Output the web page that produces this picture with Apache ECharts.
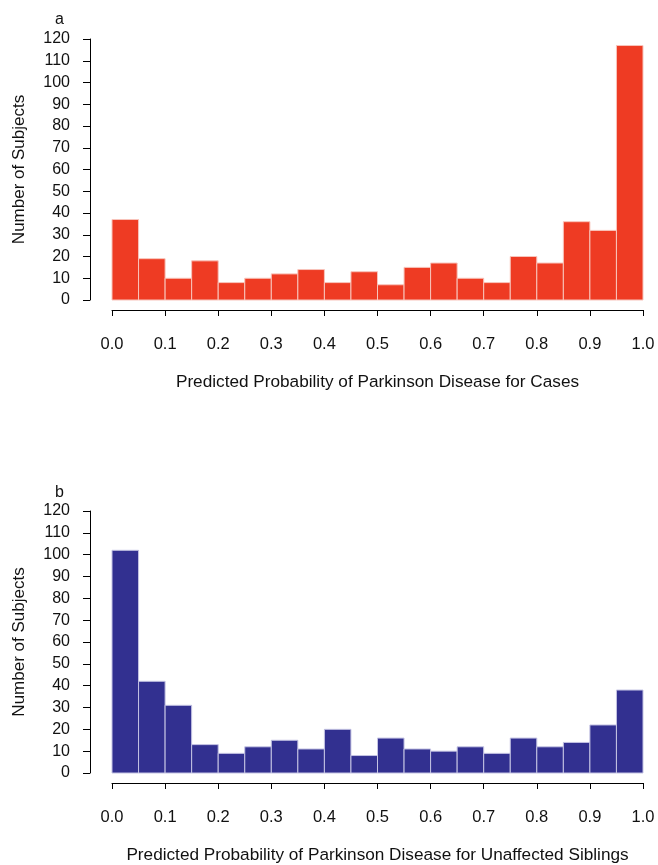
<!DOCTYPE html>
<html>
<head>
<meta charset="utf-8">
<script src="https://cdn.jsdelivr.net/npm/echarts@6/dist/echarts.min.js"></script>
<style>
  html, body { margin: 0; padding: 0; background: #fff; }
  #chart { width: 658px; height: 865px; }
</style>
</head>
<body>
<div id="chart"></div>
<script>
// Histogram bins of predicted probability (left edge of each 0.05-wide bin)
const binStarts = [0.00, 0.05, 0.10, 0.15, 0.20, 0.25, 0.30, 0.35, 0.40, 0.45,
                   0.50, 0.55, 0.60, 0.65, 0.70, 0.75, 0.80, 0.85, 0.90, 0.95];
const binWidth = 0.05;

// Panel a: Parkinson disease cases
const casesCounts = [37, 19, 10, 18, 8, 10, 12, 14, 8, 13,
                     7, 15, 17, 10, 8, 20, 17, 36, 32, 117];

// Panel b: unaffected siblings
const siblingsCounts = [102, 42, 31, 13, 9, 12, 15, 11, 20, 8,
                        16, 11, 10, 12, 9, 16, 12, 14, 22, 38];

const panelLetters = ['a', 'b'];
const xTitles = [
  'Predicted Probability of Parkinson Disease for Cases',
  'Predicted Probability of Parkinson Disease for Unaffected Siblings'
];
const yTitle = 'Number of Subjects';

const FONT = '"Liberation Sans", Arial, Helvetica, sans-serif';
const INK = '#111';

function binData(counts) {
  return binStarts.map((s, i) => [s, s + binWidth, counts[i]]);
}

function histRender(fill, edge) {
  return function (params, api) {
    const p0 = api.coord([api.value(0), 0]);
    const p1 = api.coord([api.value(1), api.value(2)]);
    return {
      type: 'rect',
      shape: { x: p0[0], y: p1[1], width: p1[0] - p0[0], height: p0[1] - p1[1] },
      style: { fill: fill, stroke: edge, lineWidth: 1 }
    };
  };
}

const grids = [
  { left: 112, width: 531, top: 39, height: 261 },
  { left: 112, width: 531, top: 511, height: 262 }
];

function xAxisFor(i) {
  return {
    type: 'value', gridIndex: i, min: 0, max: 1, interval: 0.1,
    offset: 10,
    axisLine: { show: true, onZero: false, lineStyle: { color: '#000', width: 1 } },
    axisTick: { show: true, length: 6, lineStyle: { color: '#000', width: 1 } },
    splitLine: { show: false },
    axisLabel: {
      margin: 26, fontFamily: FONT, fontSize: 16.5, color: INK,
      formatter: v => v.toFixed(1)
    },
    name: xTitles[i], nameLocation: 'middle', nameGap: 64,
    nameTextStyle: { fontFamily: FONT, fontSize: 17.2, color: INK }
  };
}

function yAxisFor(i) {
  return {
    type: 'value', gridIndex: i, min: 0, max: 120, interval: 10,
    offset: 22,
    axisLine: { show: true, onZero: false, lineStyle: { color: '#000', width: 1 } },
    axisTick: { show: true, length: 7, lineStyle: { color: '#000', width: 1 } },
    splitLine: { show: false },
    axisLabel: { margin: 20, fontFamily: FONT, fontSize: 16, color: INK },
    name: yTitle, nameLocation: 'middle', nameGap: 62,
    nameTextStyle: { fontFamily: FONT, fontSize: 17, color: INK }
  };
}

const chart = echarts.init(document.getElementById('chart'), null, { renderer: 'canvas' });
chart.setOption({
  backgroundColor: '#fff',
  animation: false,
  title: [
    { text: panelLetters[0], left: 50, top: 7,
      textStyle: { fontFamily: FONT, fontSize: 16, fontWeight: 'normal', color: INK } },
    { text: panelLetters[1], left: 50, top: 480,
      textStyle: { fontFamily: FONT, fontSize: 16, fontWeight: 'normal', color: INK } }
  ],
  grid: grids,
  xAxis: [xAxisFor(0), xAxisFor(1)],
  yAxis: [yAxisFor(0), yAxisFor(1)],
  series: [
    {
      type: 'custom', xAxisIndex: 0, yAxisIndex: 0,
      renderItem: histRender('#EE3B23', '#f8c4bb'),
      encode: { x: [0, 1], y: 2 },
      data: binData(casesCounts)
    },
    {
      type: 'custom', xAxisIndex: 1, yAxisIndex: 1,
      renderItem: histRender('#323090', '#c4c3e3'),
      encode: { x: [0, 1], y: 2 },
      data: binData(siblingsCounts)
    }
  ]
});
</script>
</body>
</html>
